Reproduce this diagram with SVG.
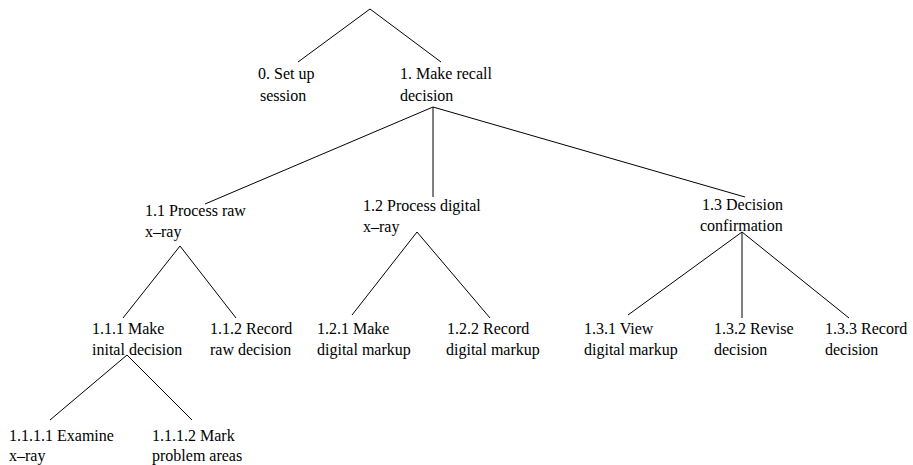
<svg xmlns="http://www.w3.org/2000/svg" width="913" height="465" viewBox="0 0 913 465">
<style>
text{font-family:"Liberation Serif","DejaVu Serif",serif;font-size:16px;fill:#000}
.c line{stroke:#000;stroke-width:1}
</style>
<rect width="913" height="465" fill="#fff"/>
<g class="c" id="connectors">
<line x1="370" y1="9" x2="298" y2="62"/>
<line x1="370" y1="9" x2="441" y2="62"/>
<line x1="433" y1="107" x2="205" y2="204"/>
<line x1="433" y1="107" x2="433" y2="197"/>
<line x1="433" y1="107" x2="745" y2="197"/>
<line x1="180" y1="246" x2="123" y2="318"/>
<line x1="180" y1="246" x2="236" y2="318"/>
<line x1="417" y1="232" x2="352" y2="315"/>
<line x1="417" y1="232" x2="490" y2="318"/>
<line x1="742" y1="232" x2="628" y2="315"/>
<line x1="742" y1="232" x2="742" y2="318"/>
<line x1="742" y1="232" x2="849" y2="318"/>
<line x1="127" y1="355" x2="50" y2="420"/>
<line x1="127" y1="355" x2="192" y2="420"/>
</g>
<g id="n0"><text x="258" y="79">0. Set up</text><text x="260" y="101">session</text></g>
<g id="n1"><text x="400" y="79">1. Make recall</text><text x="400" y="101">decision</text></g>
<g id="n11"><text x="145" y="216">1.1 Process raw</text><text x="145" y="237">x–ray</text></g>
<g id="n12"><text x="363" y="211">1.2 Process digital</text><text x="363" y="232">x–ray</text></g>
<g id="n13"><text x="702" y="210">1.3 Decision</text><text x="700" y="231">confirmation</text></g>
<g id="n111"><text x="92" y="334">1.1.1 Make</text><text x="92" y="355">inital decision</text></g>
<g id="n112"><text x="210" y="334">1.1.2 Record</text><text x="210" y="355">raw decision</text></g>
<g id="n121"><text x="317" y="334">1.2.1 Make</text><text x="317" y="355">digital markup</text></g>
<g id="n122"><text x="447" y="334">1.2.2 Record</text><text x="446" y="355">digital markup</text></g>
<g id="n131"><text x="584" y="334">1.3.1 View</text><text x="584" y="355">digital markup</text></g>
<g id="n132"><text x="714" y="334">1.3.2 Revise</text><text x="714" y="355">decision</text></g>
<g id="n133"><text x="825" y="334">1.3.3 Record</text><text x="825" y="355">decision</text></g>
<g id="n1111"><text x="9" y="441">1.1.1.1 Examine</text><text x="9" y="461">x–ray</text></g>
<g id="n1112"><text x="152" y="441">1.1.1.2 Mark</text><text x="152" y="461">problem areas</text></g>
</svg>
